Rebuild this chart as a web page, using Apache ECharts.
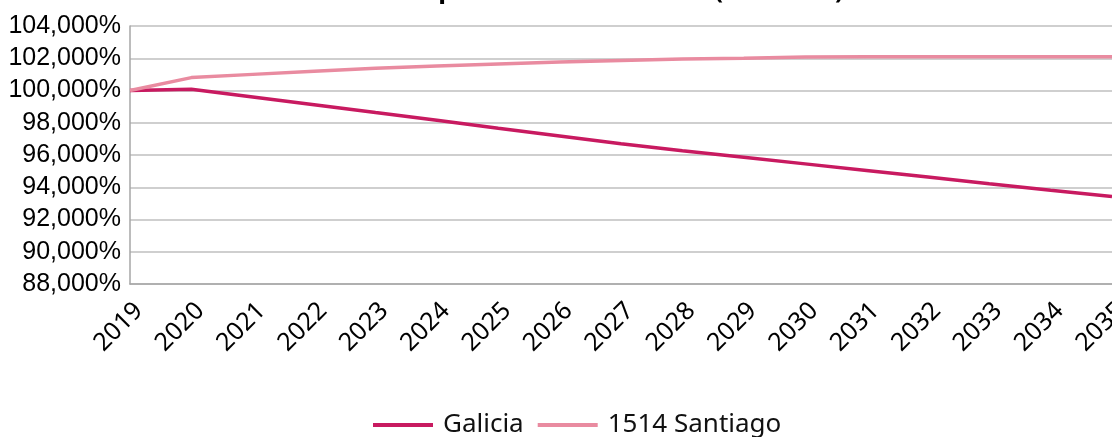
<!DOCTYPE html>
<html lang="gl">
<head>
    <meta charset="UTF-8"/>
    <title>Evolución da poboación</title>
    <script src="https://cdn.jsdelivr.net/npm/echarts@6/dist/echarts.min.js"></script>
    <style>
        html, body { margin: 0; padding: 0; background: #fff; }
    </style>
</head>
<body>
<div id="main" style="width:1112px;height:437px;"></div>

<script type="text/javascript">
    // anos do eixo X
    var anos = ['2019', '2020', '2021', '2022', '2023', '2024', '2025', '2026', '2027',
        '2028', '2029', '2030', '2031', '2032', '2033', '2034', '2035'];
    // poboación (base 100 = 2019), en %
    var galicia = [100.00, 100.08, 99.60, 99.12, 98.63, 98.15, 97.66, 97.18, 96.70,
        96.27, 95.86, 95.45, 95.04, 94.63, 94.22, 93.82, 93.43];
    var santiago = [100.00, 100.80, 101.00, 101.20, 101.38, 101.52, 101.65, 101.76, 101.86,
        101.95, 102.00, 102.08, 102.09, 102.09, 102.09, 102.09, 102.09];
    var nomes = ['Galicia', '1514 Santiago'];

    var myChart = echarts.init(document.getElementById('main'));

    var option = {
        animation: false,
        title: {
            text: 'Evolución da poboación 2019-2035 (base 100)',
            left: 'center',
            top: -27,
            textStyle: {fontFamily: 'Noto Sans', fontSize: 26, fontWeight: 'bold', color: '#000'}
        },
        grid: {left: 130, right: 0, top: 26, bottom: 153, outerBoundsMode: 'none'},
        legend: {
            bottom: -6,
            left: 368,
            itemWidth: 60,
            itemHeight: 4,
            itemGap: 14,
            icon: 'rect',
            textStyle: {fontFamily: 'Noto Sans', fontSize: 26, color: '#111', padding: [0, 0, 0, 5]},
            data: nomes
        },
        xAxis: {
            type: 'category',
            boundaryGap: false,
            data: anos,
            axisLine: {lineStyle: {color: '#a6a6a6', width: 1.5}},
            axisTick: {show: false},
            axisLabel: {
                rotate: 45,
                margin: 14,
                verticalAlign: 'top',
                fontFamily: 'Noto Sans',
                fontSize: 25,
                color: '#000',
                interval: 0
            }
        },
        yAxis: {
            type: 'value',
            min: 88,
            max: 104,
            interval: 2,
            axisLine: {show: true, lineStyle: {color: '#a6a6a6', width: 1.5}},
            axisTick: {show: false},
            splitLine: {lineStyle: {color: '#bfbfbf', width: 1.5}},
            axisLabel: {
                margin: 9,
                fontFamily: 'Liberation Sans',
                fontSize: 25,
                color: '#000',
                formatter: function (v) {
                    return v.toFixed(3).replace('.', ',') + '%';
                }
            }
        },
        series: [
            {
                name: nomes[0],
                type: 'line',
                data: galicia,
                symbol: 'none',
                lineStyle: {width: 3.5, color: '#c81a60'},
                itemStyle: {color: '#c81a60'}
            },
            {
                name: nomes[1],
                type: 'line',
                data: santiago,
                symbol: 'none',
                lineStyle: {width: 3.5, color: '#e98ba0'},
                itemStyle: {color: '#e98ba0'}
            }
        ]
    };

    myChart.setOption(option);
</script>
</body>
</html>
